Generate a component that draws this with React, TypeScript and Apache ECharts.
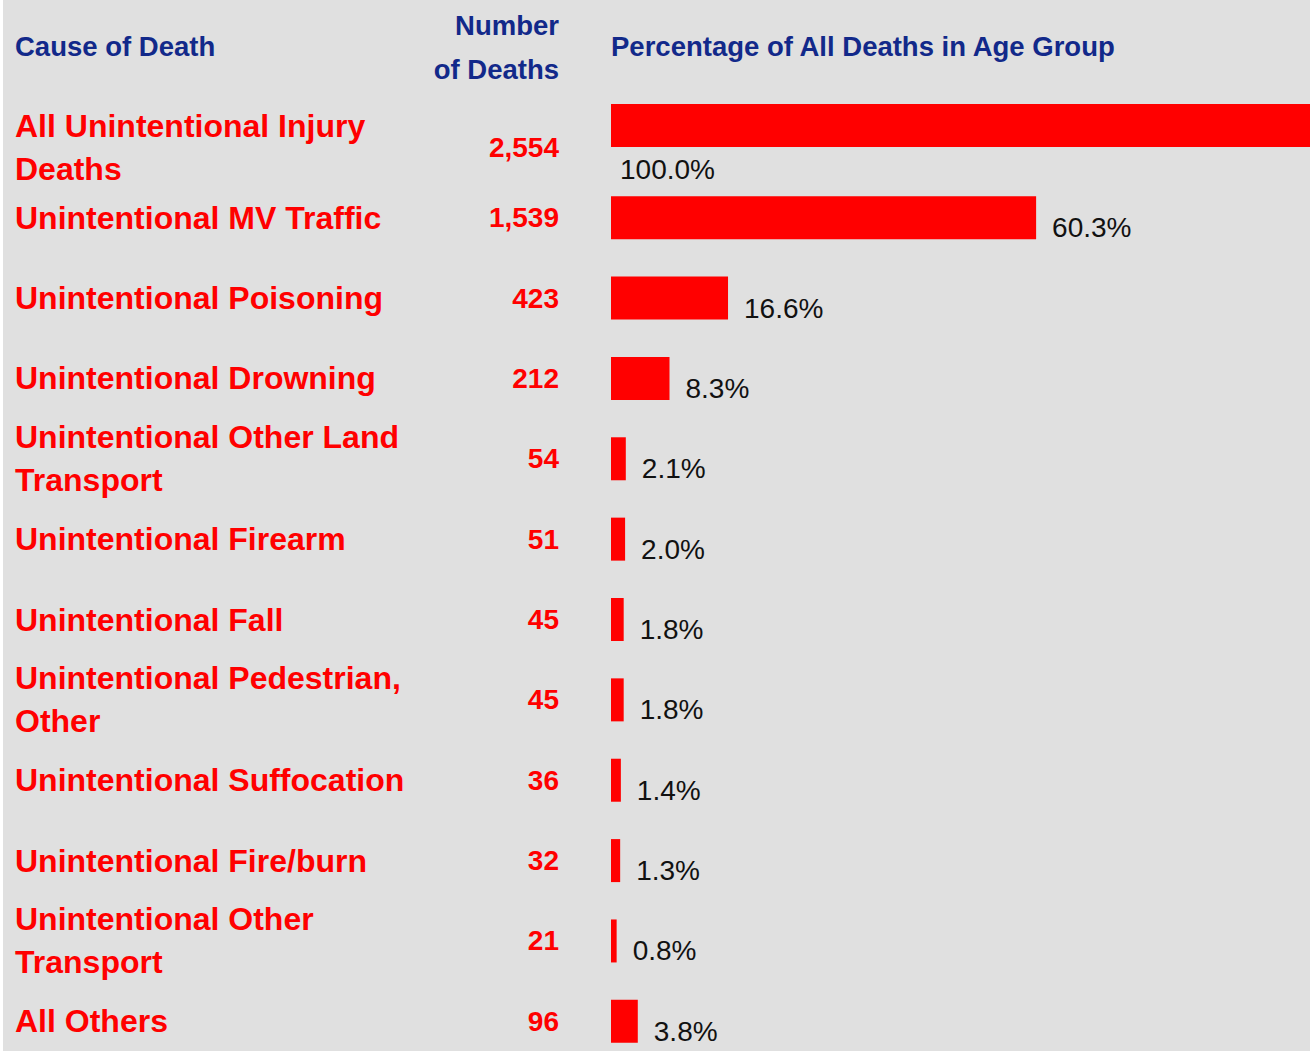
import React, { useEffect, useRef } from "react";
import * as echarts from "echarts";

const categories = [
  "All Unintentional Injury\nDeaths",
  "Unintentional MV Traffic",
  "Unintentional Poisoning",
  "Unintentional Drowning",
  "Unintentional Other Land\nTransport",
  "Unintentional Firearm",
  "Unintentional Fall",
  "Unintentional Pedestrian,\nOther",
  "Unintentional Suffocation",
  "Unintentional Fire/burn",
  "Unintentional Other\nTransport",
  "All Others",
];
const deaths = [2554, 1539, 423, 212, 54, 51, 45, 45, 36, 32, 21, 96];
const percents = [100.0, 60.3, 16.6, 8.3, 2.1, 2.0, 1.8, 1.8, 1.4, 1.3, 0.8, 3.8];
const headers = ["Cause of Death", "Number\nof Deaths", "Percentage of All Deaths in Age Group"];

const SANS = "'Liberation Sans', Arial, sans-serif";
const NAVY = "#12298a";
const RED = "#ff0000";

export default function App() {
  const ref = useRef<HTMLDivElement>(null);
  useEffect(() => {
    if (!ref.current) return;
    const chart = echarts.init(ref.current, null, { renderer: "svg" });
    const fmt = (n: number) => n.toLocaleString("en-US");

    // grid 0: the total row; grid 1: the individual causes
    const groups = [
      { from: 0, to: 1, top: 84.5, height: 82, total: true },
      { from: 1, to: 12, top: 177.5, height: 884, total: false },
    ];

    const grids: any[] = [];
    const xAxes: any[] = [];
    const yAxes: any[] = [];
    const series: any[] = [];

    groups.forEach((g, gi) => {
      grids.push({
        left: 611,
        top: g.top,
        width: 705,
        height: g.height,
        containLabel: false,
        outerBoundsMode: "none",
      });
      xAxes.push({ type: "value", gridIndex: gi, min: 0, max: 100, show: false });
      const cats = categories.slice(g.from, g.to);
      const nums = deaths.slice(g.from, g.to).map(fmt);
      const vals = percents.slice(g.from, g.to);
      const catIdx = yAxes.length;
      yAxes.push({
        type: "category",
        gridIndex: gi,
        inverse: true,
        data: cats,
        axisLine: { show: false },
        axisTick: { show: false },
        axisLabel: {
          interval: 0,
          align: "left",
          margin: 596,
          color: RED,
          fontFamily: SANS,
          fontWeight: "bold",
          fontSize: 32,
          lineHeight: 43,
          padding: [8, 0, 0, 0],
          formatter: (v: string) => (g.total ? "\n" + v : v),
        },
      });
      yAxes.push({
        type: "category",
        gridIndex: gi,
        inverse: true,
        position: "left",
        data: nums,
        axisLine: { show: false },
        axisTick: { show: false },
        axisLabel: {
          interval: 0,
          align: "right",
          margin: 52,
          color: RED,
          fontFamily: SANS,
          fontWeight: "bold",
          fontSize: 28,
          lineHeight: 43,
          padding: [8, 0, 0, 0],
          formatter: (v: string) => (g.total ? "\n" + v : v),
        },
      });
      series.push({
        type: "bar",
        xAxisIndex: gi,
        yAxisIndex: catIdx,
        barWidth: 43,
        itemStyle: { color: RED },
        data: vals,
        label: g.total
          ? {
              show: true,
              position: [9, 65],
              align: "left",
              verticalAlign: "middle",
              color: "#111",
              fontFamily: SANS,
              fontSize: 28,
              formatter: (p: any) => p.value.toFixed(1) + "%",
            }
          : {
              show: true,
              position: "right",
              distance: 16,
              offset: [0, 10],
              color: "#111",
              fontFamily: SANS,
              fontSize: 28,
              formatter: (p: any) => p.value.toFixed(1) + "%",
            },
      });
    });

    chart.setOption({
      animation: false,
      backgroundColor: "#e0e0e0",
      grid: grids,
      xAxis: xAxes,
      yAxis: yAxes,
      series,
      graphic: [
        { type: "rect", shape: { x: 0, y: 0, width: 3, height: 1051 }, style: { fill: "#ffffff" } },
        {
          type: "text",
          x: 15,
          y: 46,
          style: { text: headers[0], fill: NAVY, font: `bold 27.5px ${SANS}`, verticalAlign: "middle" },
        },
        {
          type: "text",
          x: 559,
          y: 47,
          style: {
            text: headers[1],
            fill: NAVY,
            font: `bold 27.5px ${SANS}`,
            align: "right",
            verticalAlign: "middle",
            lineHeight: 44,
          },
        },
        {
          type: "text",
          x: 611,
          y: 46,
          style: { text: headers[2], fill: NAVY, font: `bold 27.5px ${SANS}`, verticalAlign: "middle" },
        },
      ],
    });
    return () => chart.dispose();
  }, []);
  return <div ref={ref} style={{ position: "absolute", left: 0, top: 0, width: 1310, height: 1051 }} />;
}
